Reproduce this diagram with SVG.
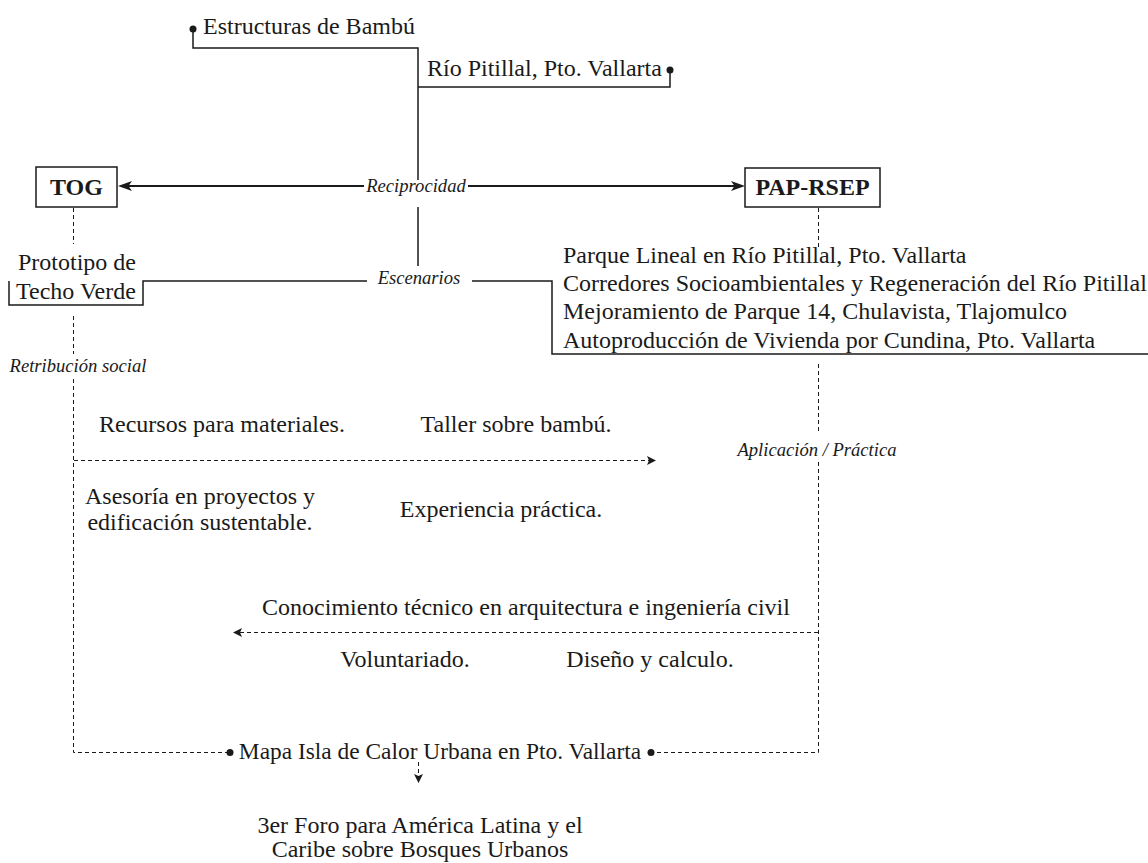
<svg xmlns="http://www.w3.org/2000/svg" width="1148" height="863" viewBox="0 0 1148 863">
<style>
text{font-family:"Liberation Serif","Times New Roman",serif;fill:#1a1a1a}
.t{font-size:24px}
.b{font-size:24px;font-weight:bold}
.i{font-size:18.6px;font-style:italic}
.ln{fill:none;stroke:#1a1a1a;stroke-width:1.5}
.thick{fill:none;stroke:#1a1a1a;stroke-width:2}
.dash{fill:none;stroke:#1a1a1a;stroke-width:1;stroke-dasharray:4 3}
.box{fill:#fff;stroke:#1a1a1a;stroke-width:1.5}
.bg{fill:#fff}
.dot{fill:#1a1a1a}
</style>
<defs>
<marker id="classic" markerUnits="userSpaceOnUse" viewBox="0 0 14 10" refX="10" refY="5" markerWidth="14" markerHeight="10" orient="auto-start-reverse">
<path d="M0,0 L14,5 L0,10 L3.5,5 Z" fill="#1a1a1a"/>
</marker>
<marker id="small" markerUnits="userSpaceOnUse" viewBox="0 0 9 9" refX="7" refY="4.5" markerWidth="9" markerHeight="9" orient="auto">
<path d="M0,0 L9,4.5 L0,9 L2,4.5 Z" fill="#1a1a1a"/>
</marker>
</defs>

<g id="connectors">
<path class="ln" d="M193,29 V48 H418 V266"/>
<path class="ln" d="M670,70 V87 H418"/>
<line class="thick" x1="122" y1="186" x2="741" y2="186" marker-start="url(#classic)" marker-end="url(#classic)"/>
<rect class="bg" x="364" y="180" width="104" height="27"/>
<path class="ln" d="M9,281 V305 H143 V281 H552 V354 H1148"/>
<rect class="bg" x="367" y="266" width="105" height="26"/>
<line class="dash" x1="73.5" y1="208" x2="73.5" y2="244"/>
<line class="dash" x1="818.5" y1="208" x2="818.5" y2="248"/>
<path class="dash" d="M73.5,316 V752.5 H230"/>
<path class="dash" d="M818.5,364 V752.5 H651"/>
<rect class="bg" x="8" y="354" width="142" height="25"/>
<rect class="bg" x="733" y="431" width="168" height="30"/>
<line class="dash" x1="74" y1="460.5" x2="654" y2="460.5" marker-end="url(#small)"/>
<line class="dash" x1="818" y1="632.5" x2="235" y2="632.5" marker-end="url(#small)"/>
<line class="dash" x1="418.5" y1="762" x2="418.5" y2="781" marker-end="url(#small)"/>
<circle class="dot" cx="193" cy="29" r="3.5"/>
<circle class="dot" cx="670" cy="70" r="3.5"/>
<circle class="dot" cx="230" cy="752.5" r="3.5"/>
<circle class="dot" cx="651" cy="752.5" r="3.5"/>
<text class="i" x="416" y="192" text-anchor="middle">Reciprocidad</text>
<text class="i" x="419" y="284" text-anchor="middle">Escenarios</text>
<text class="i" x="78" y="372" text-anchor="middle">Retribución social</text>
<text class="i" x="817" y="456" text-anchor="middle">Aplicación / Práctica</text>
</g>

<g id="estructuras">
<text class="t" x="203" y="34">Estructuras de Bambú</text>
</g>
<g id="rio">
<text class="t" x="427" y="76">Río Pitillal, Pto. Vallarta</text>
</g>
<g id="tog">
<rect class="box" x="36" y="167" width="81" height="40"/>
<text class="b" x="76.5" y="195" text-anchor="middle">TOG</text>
</g>
<g id="pap">
<rect class="box" x="745" y="168" width="135" height="39"/>
<text class="b" x="812.5" y="195" text-anchor="middle">PAP-RSEP</text>
</g>
<g id="prototipo">
<text class="t" x="77" y="270" text-anchor="middle">Prototipo de</text>
<text class="t" x="76" y="299" text-anchor="middle">Techo Verde</text>
</g>
<g id="proyectos">
<text class="t" x="563" y="263">Parque Lineal en Río Pitillal, Pto. Vallarta</text>
<text class="t" x="563" y="291">Corredores Socioambientales y Regeneración del Río Pitillal</text>
<text class="t" x="563" y="319">Mejoramiento de Parque 14, Chulavista, Tlajomulco</text>
<text class="t" x="563" y="348">Autoproducción de Vivienda por Cundina, Pto. Vallarta</text>
</g>
<g id="recursos">
<text class="t" x="222" y="432" text-anchor="middle">Recursos para materiales.</text>
</g>
<g id="taller">
<text class="t" x="516" y="432" text-anchor="middle">Taller sobre bambú.</text>
</g>
<g id="asesoria">
<text class="t" x="200" y="504" text-anchor="middle">Asesoría en proyectos y</text>
<text class="t" x="200" y="530" text-anchor="middle">edificación sustentable.</text>
</g>
<g id="experiencia">
<text class="t" x="501" y="517" text-anchor="middle">Experiencia práctica.</text>
</g>
<g id="conocimiento">
<text class="t" x="526" y="615" text-anchor="middle">Conocimiento técnico en arquitectura e ingeniería civil</text>
</g>
<g id="voluntariado">
<text class="t" x="405" y="667" text-anchor="middle">Voluntariado.</text>
</g>
<g id="diseno">
<text class="t" x="650" y="667" text-anchor="middle">Diseño y calculo.</text>
</g>
<g id="mapa">
<text class="t" x="440" y="759" text-anchor="middle" style="font-size:23.4px">Mapa Isla de Calor Urbana en Pto. Vallarta</text>
</g>
<g id="foro">
<text class="t" x="420" y="833" text-anchor="middle">3er Foro para América Latina y el</text>
<text class="t" x="420" y="857" text-anchor="middle">Caribe sobre Bosques Urbanos</text>
</g>
</svg>
